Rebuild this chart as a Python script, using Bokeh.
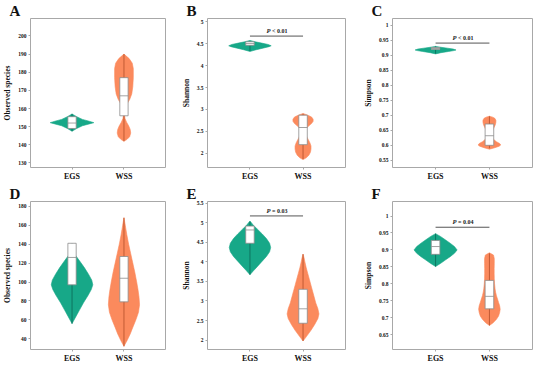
import numpy as np
from bokeh.plotting import figure
from bokeh.layouts import column, row
from bokeh.models import FixedTicker, Label, Range1d, NumeralTickFormatter
from bokeh.embed import file_html
from bokeh.resources import INLINE

groups = ["EGS", "WSS"]
group_pos = [1, 2]
fill = {"EGS": "#17A888", "WSS": "#FB8A5D"}
dark = {"EGS": "#0E7560", "WSS": "#C25A34"}

# ---------------- Panel A: Observed species (top) ----------------
a_ticks = [130, 140, 150, 160, 170, 180, 190, 200]
a_egs_y = [147.5, 149, 150.5, 151.5, 152.2, 153, 154, 155.5, 157]
a_egs_w = [0, 0.09, 0.2, 0.33, 0.42, 0.33, 0.2, 0.09, 0]
a_wss_y = [141.9, 143, 144.5, 146.5, 148.5, 150.5, 152.5, 154.5, 156.5, 158.5,
           161, 163, 165, 168, 172, 177, 182, 185, 187.5, 190]
a_wss_w = [0, 0.06, 0.11, 0.13, 0.12, 0.09, 0.05, 0.02, 0.008, 0.01,
           0.03, 0.07, 0.11, 0.15, 0.17, 0.18, 0.18, 0.16, 0.1, 0]
a_egs_box = [147.5, 149, 152, 155.5, 157]     # min, q1, median, q3, max
a_wss_box = [142, 156, 167, 177, 190]

# ---------------- Panel B: Shannon (top) ----------------
b_ticks = [2, 2.5, 3, 3.5, 4, 4.5, 5]
b_egs_y = [4.32, 4.36, 4.40, 4.43, 4.45, 4.48, 4.51, 4.54, 4.57]
b_egs_w = [0, 0.12, 0.26, 0.36, 0.40, 0.34, 0.22, 0.1, 0]
b_wss_y = [1.86, 1.9, 1.96, 2.03, 2.1, 2.17, 2.24, 2.31, 2.38, 2.45,
           2.52, 2.58, 2.63, 2.68, 2.73, 2.78, 2.83, 2.87, 2.91]
b_wss_w = [0, 0.06, 0.11, 0.14, 0.15, 0.15, 0.13, 0.1, 0.07, 0.05,
           0.05, 0.07, 0.11, 0.16, 0.19, 0.19, 0.16, 0.09, 0]
b_egs_box = [4.33, 4.46, 4.5, 4.54, 4.56]
b_wss_box = [1.87, 2.2, 2.59, 2.87, 2.9]
b_p = ["P", "< 0.01"]
b_p_y = 4.67

# ---------------- Panel C: Simpson (top) ----------------
c_ticks = [0.55, 0.6, 0.65, 0.7, 0.75, 0.8, 0.85, 0.9, 0.95, 1]
c_egs_y = [0.905, 0.909, 0.913, 0.916, 0.918, 0.921, 0.924, 0.927, 0.93]
c_egs_w = [0, 0.1, 0.24, 0.34, 0.38, 0.33, 0.22, 0.1, 0]
c_wss_y = [0.587, 0.592, 0.597, 0.601, 0.606, 0.612, 0.619, 0.627, 0.636,
           0.645, 0.653, 0.661, 0.669, 0.677, 0.684, 0.69, 0.694, 0.697]
c_wss_w = [0, 0.1, 0.18, 0.21, 0.19, 0.13, 0.08, 0.055, 0.05,
           0.055, 0.07, 0.09, 0.11, 0.12, 0.12, 0.1, 0.06, 0]
c_egs_box = [0.906, 0.92, 0.923, 0.926, 0.93]
c_wss_box = [0.59, 0.6, 0.632, 0.671, 0.697]
c_p = ["P", "< 0.01"]
c_p_y = 0.941

# ---------------- Panel D: Observed species (bottom) ----------------
d_ticks = [40, 60, 80, 100, 120, 140, 160, 180]
d_egs_y = [56, 62, 70, 78, 86, 92, 97, 102, 108, 115, 122, 128, 134]
d_egs_w = [0, 0.06, 0.14, 0.22, 0.31, 0.37, 0.40, 0.38, 0.32, 0.24, 0.15, 0.07, 0]
d_wss_y = [32, 38, 45, 52, 60, 68, 76, 84, 92, 100, 110, 120, 130, 140, 150, 160, 168]
d_wss_w = [0, 0.06, 0.12, 0.17, 0.23, 0.28, 0.30, 0.29, 0.27, 0.245, 0.21,
           0.17, 0.13, 0.09, 0.055, 0.025, 0]
d_egs_box = [56, 97, 126, 141, 141]
d_wss_box = [32, 79, 104, 127, 168]

# ---------------- Panel E: Shannon (bottom) ----------------
e_ticks = [2, 2.5, 3, 3.5, 4, 4.5, 5, 5.5]
e_egs_y = [3.675, 3.78, 3.9, 4.02, 4.14, 4.26, 4.37, 4.48, 4.6, 4.72, 4.84, 4.95, 5.05]
e_egs_w = [0, 0.07, 0.15, 0.23, 0.31, 0.37, 0.39, 0.37, 0.31, 0.23, 0.14, 0.06, 0]
e_wss_y = [1.975, 2.1, 2.25, 2.4, 2.55, 2.67, 2.8, 2.95, 3.1, 3.25, 3.4, 3.55,
           3.7, 3.85, 4.0, 4.1, 4.2]
e_wss_w = [0, 0.07, 0.15, 0.22, 0.28, 0.30, 0.28, 0.24, 0.21, 0.18, 0.15, 0.12,
           0.09, 0.06, 0.035, 0.02, 0]
e_egs_box = [3.675, 4.48, 4.82, 4.92, 5.03]
e_wss_box = [1.975, 2.43, 2.8, 3.3, 4.2]
e_p = ["P", "= 0.03"]
e_p_y = 5.18

# ---------------- Panel F: Simpson (bottom) ----------------
f_ticks = [0.65, 0.7, 0.75, 0.8, 0.85, 0.9, 0.95, 1]
f_egs_y = [0.851, 0.86, 0.87, 0.88, 0.89, 0.9, 0.91, 0.92, 0.93, 0.94, 0.948]
f_egs_w = [0, 0.09, 0.18, 0.27, 0.35, 0.40, 0.35, 0.27, 0.18, 0.09, 0]
f_wss_y = [0.677, 0.685, 0.695, 0.705, 0.715, 0.725, 0.735, 0.745, 0.755, 0.765,
           0.775, 0.785, 0.8, 0.815, 0.83, 0.845, 0.86, 0.875, 0.885, 0.8915]
f_wss_w = [0, 0.07, 0.13, 0.17, 0.19, 0.20, 0.19, 0.17, 0.15, 0.13,
           0.115, 0.105, 0.095, 0.09, 0.088, 0.088, 0.09, 0.09, 0.075, 0]
f_egs_box = [0.851, 0.887, 0.91, 0.928, 0.948]
f_wss_box = [0.677, 0.726, 0.763, 0.81, 0.89]
f_p = ["P", "= 0.04"]
f_p_y = 0.967

SERIF = "Liberation Serif"
BOX_HW = 0.08


def make_panel(letter, ylabel, yr, ticks, prof, boxes, ptxt, py,
               width, height, bl, br, bt, bb):
    p = figure(width=width, height=height, x_range=Range1d(0.2, 2.8),
               y_range=Range1d(*yr), output_backend="svg", toolbar_location=None,
               min_border_left=bl, min_border_right=br,
               min_border_top=bt, min_border_bottom=bb,
               title=letter)
    p.title.align = "left"
    p.title.offset = -21
    p.title.standoff = 0
    p.title.text_font = SERIF
    p.title.text_font_style = "bold"
    p.title.text_font_size = "15px"
    p.title.text_color = "#111111"
    p.title.text_line_height = 0.9

    p.outline_line_color = "#a8a8a8"
    p.outline_line_width = 1
    p.xgrid.visible = False
    p.ygrid.visible = False
    p.background_fill_color = "white"

    for g, c in zip(groups, group_pos):
        y = np.array(prof[g][0], dtype=float)
        w = np.array(prof[g][1], dtype=float)
        xs = np.concatenate([c - w, (c + w)[::-1]])
        ys = np.concatenate([y, y[::-1]])
        p.patch(xs, ys, fill_color=fill[g], line_color=fill[g], line_width=0.6)
        mn, q1, md, q3, mx = boxes[g]
        p.segment(x0=[c], x1=[c], y0=[mn], y1=[mx], line_color=dark[g], line_width=1)
        p.quad(left=[c - BOX_HW], right=[c + BOX_HW], bottom=[q1], top=[q3],
               fill_color="white", line_color="#8c8c8c", line_width=0.8)
        p.segment(x0=[c - BOX_HW], x1=[c + BOX_HW], y0=[md], y1=[md],
                  line_color="#8c8c8c", line_width=0.8)

    if ptxt is not None:
        p.segment(x0=[group_pos[0]], x1=[group_pos[1]], y0=[py], y1=[py],
                  line_color="#555555", line_width=1)
        mid = (group_pos[0] + group_pos[1]) / 2
        p.add_layout(Label(x=mid, y=py, text=ptxt[0], x_offset=-6, y_offset=2,
                           text_align="right", text_baseline="bottom",
                           text_font=SERIF, text_font_style="bold italic",
                           text_font_size="6.5px", text_color="#222222"))
        p.add_layout(Label(x=mid, y=py, text=ptxt[1], x_offset=-4.5, y_offset=2,
                           text_align="left", text_baseline="bottom",
                           text_font=SERIF, text_font_style="bold",
                           text_font_size="6px", text_color="#222222"))

    # x axis
    xa = p.xaxis[0]
    xa.ticker = FixedTicker(ticks=group_pos)
    xa.major_label_overrides = {gp: g for gp, g in zip(group_pos, groups)}
    xa.minor_tick_line_color = None
    xa.axis_line_color = None
    xa.major_tick_line_color = "#a8a8a8"
    xa.major_tick_out = 2
    xa.major_tick_in = 0
    xa.major_label_standoff = 2
    xa.major_label_text_font = SERIF
    xa.major_label_text_font_style = "bold"
    xa.major_label_text_font_size = "8px"
    xa.major_label_text_color = "#111111"

    # y axis
    ya = p.yaxis[0]
    ya.ticker = FixedTicker(ticks=ticks)
    ya.formatter = NumeralTickFormatter(format="0.[00]")
    ya.minor_tick_line_color = None
    ya.axis_line_color = None
    ya.major_tick_line_color = "#a8a8a8"
    ya.major_tick_out = 2
    ya.major_tick_in = 0
    ya.major_label_standoff = 2
    ya.major_label_text_font = SERIF
    ya.major_label_text_font_style = "bold"
    ya.major_label_text_font_size = "5.5px"
    ya.major_label_text_color = "#111111"
    ya.axis_label = ylabel
    ya.axis_label_text_font = SERIF
    ya.axis_label_text_font_style = "bold"
    ya.axis_label_text_font_size = "7.5px"
    ya.axis_label_text_color = "#111111"
    ya.axis_label_standoff = 3
    return p


W = 178
pa = make_panel("A", "Observed species", (127.5, 209.6), a_ticks,
                {"EGS": (a_egs_y, a_egs_w), "WSS": (a_wss_y, a_wss_w)},
                {"EGS": a_egs_box, "WSS": a_wss_box}, None, None,
                W, 183, 23, 13, 14, 13)
pb = make_panel("B", "Shannon", (1.68, 5.07), b_ticks,
                {"EGS": (b_egs_y, b_egs_w), "WSS": (b_wss_y, b_wss_w)},
                {"EGS": b_egs_box, "WSS": b_wss_box}, b_p, b_p_y,
                W, 183, 25, 11, 14, 13)
pc = make_panel("C", "Simpson", (0.526, 1.023), c_ticks,
                {"EGS": (c_egs_y, c_egs_w), "WSS": (c_wss_y, c_wss_w)},
                {"EGS": c_egs_box, "WSS": c_wss_box}, c_p, c_p_y,
                W, 183, 36, 2, 14, 13)
pd = make_panel("D", "Observed species", (28.6, 185.2), d_ticks,
                {"EGS": (d_egs_y, d_egs_w), "WSS": (d_wss_y, d_wss_w)},
                {"EGS": d_egs_box, "WSS": d_wss_box}, None, None,
                W, 182, 23, 13, 14, 13)
pe = make_panel("E", "Shannon", (1.757, 5.55), e_ticks,
                {"EGS": (e_egs_y, e_egs_w), "WSS": (e_wss_y, e_wss_w)},
                {"EGS": e_egs_box, "WSS": e_wss_box}, e_p, e_p_y,
                W, 182, 25, 11, 14, 13)
pf = make_panel("F", "Simpson", (0.606, 1.043), f_ticks,
                {"EGS": (f_egs_y, f_egs_w), "WSS": (f_wss_y, f_wss_w)},
                {"EGS": f_egs_box, "WSS": f_wss_box}, f_p, f_p_y,
                W, 182, 36, 2, 14, 13)

layout = column(row(pa, pb, pc), row(pd, pe, pf))
open("out.html", "w").write(file_html(layout, INLINE))
